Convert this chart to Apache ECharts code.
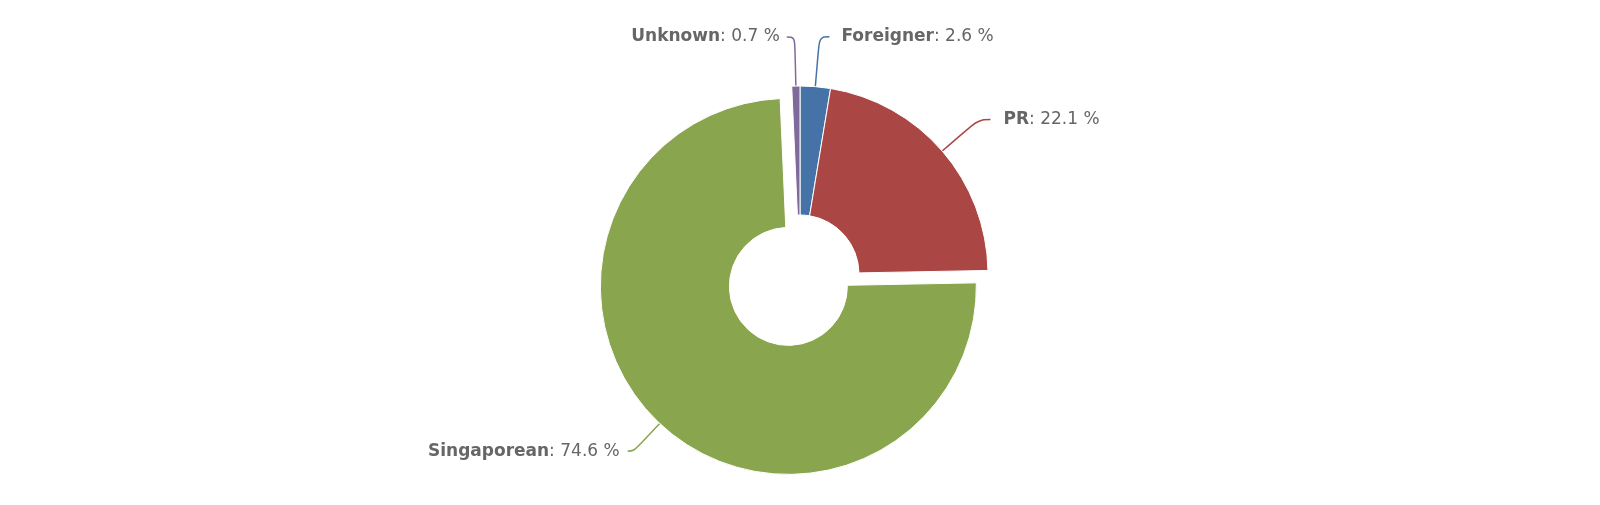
<!DOCTYPE html>
<html>
<head>
<meta charset="utf-8">
<script src="https://cdn.jsdelivr.net/npm/echarts@6/dist/echarts.min.js"></script>
<style>
html,body{margin:0;padding:0;background:#fff;}
#chart{width:1600px;height:505px;}
</style>
</head>
<body>
<div id="chart"></div>
<script>
const categories = ['Foreigner', 'PR', 'Singaporean', 'Unknown'];
const values = [2.6, 22.1, 74.6, 0.7];
const colors = ['#4572A7', '#AA4643', '#89A54E', '#80699B'];
const selectedCategory = 'Singaporean';
const lineLengths = [[50, 10], [48, 12], [38, 6], [49, 8]];
const labelGaps = [7, 8, 3, 2];

const chart = echarts.init(document.getElementById('chart'), null, {renderer: 'canvas'});
const data = categories.map((c, i) => ({
  name: c,
  value: values[i],
  selected: c === selectedCategory,
  itemStyle: {color: colors[i]},
  label: {padding: [0, labelGaps[i]]},
  labelLine: {length: lineLengths[i][0], length2: lineLengths[i][1], lineStyle: {color: colors[i]}}
}));

chart.setOption({
  animation: false,
  series: [{
    type: 'pie',
    center: [800, 274],
    radius: [59, 188],
    startAngle: 90,
    clockwise: true,
    selectedMode: 'single',
    selectedOffset: 17,
    avoidLabelOverlap: false,
    itemStyle: {borderColor: '#fff', borderWidth: 1},
    label: {
      show: true,
      position: 'outside',
      formatter: p => '{b|' + p.name + '}{n|: ' + p.value + ' %}',
      rich: {
        b: {fontFamily: 'DejaVu Sans', fontSize: 17, fontWeight: 'bold', color: '#666'},
        n: {fontFamily: 'DejaVu Sans', fontSize: 17, color: '#666'}
      }
    },
    labelLine: {show: true, smooth: 0.4, lineStyle: {width: 1.5}},
    emphasis: {disabled: true},
    data: data
  }]
});
</script>
</body>
</html>
